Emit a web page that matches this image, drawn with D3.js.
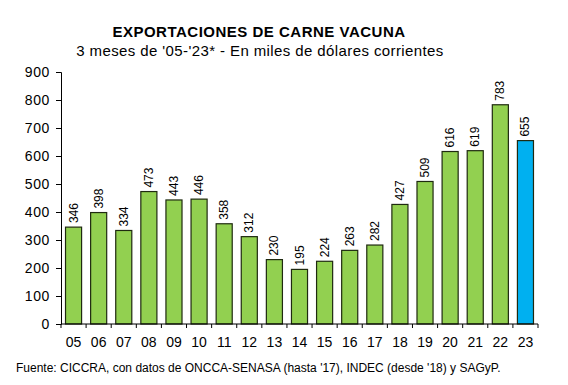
<!DOCTYPE html>
<html>
<head>
<meta charset="utf-8">
<script src="https://cdn.jsdelivr.net/npm/d3@7"></script>
<style>
  body { margin: 0; background: #fff; }
  text { font-family: "Liberation Sans", Arial, sans-serif; fill: #000; }
</style>
</head>
<body>
<div id="chart"></div>
<script>
const years = ['05', '06', '07', '08', '09', '10', '11', '12', '13', '14', '15', '16', '17', '18', '19', '20', '21', '22', '23'];
const values = [346, 398, 334, 473, 443, 446, 358, 312, 230, 195, 224, 263, 282, 427, 509, 616, 619, 783, 655];
const yTicks = [0, 100, 200, 300, 400, 500, 600, 700, 800, 900];

const width = 568;
const height = 385;

const svg = d3.select('#chart').append('svg')
  .attr('width', width)
  .attr('height', height);

const plotMargins = {top: 72, bottom: 61, left: 61, right: 30};
const plotWidth = width - plotMargins.left - plotMargins.right;
const plotHeight = height - plotMargins.top - plotMargins.bottom;

svg.append('text')
  .attr('x', 259).attr('y', 37)
  .attr('text-anchor', 'middle')
  .style('font-size', '15px').style('font-weight', 'bold')
  .style('letter-spacing', '0.5px')
  .text('EXPORTACIONES DE CARNE VACUNA');

svg.append('text')
  .attr('x', 260).attr('y', 56)
  .attr('text-anchor', 'middle')
  .style('font-size', '15px')
  .style('letter-spacing', '0.4px')
  .text("3 meses de '05-'23* - En miles de dólares corrientes");

const plotGroup = svg.append('g')
  .attr('transform', `translate(${plotMargins.left},${plotMargins.top})`);

const xScale = d3.scaleBand()
  .domain(years)
  .range([0, plotWidth])
  .paddingInner(0.36)
  .paddingOuter(0.18);

const yScale = d3.scaleLinear()
  .domain([0, 900])
  .range([plotHeight, 0]);

// y axis
const yAxis = d3.axisLeft(yScale).tickValues(yTicks).tickSize(5).tickPadding(6);
const yAxisGroup = plotGroup.append('g').call(yAxis);
yAxisGroup.selectAll('text').style('font-size', '14px').style('letter-spacing', '0.6px');

// bars
plotGroup.selectAll('.bar')
  .data(values)
  .enter()
  .append('rect')
  .classed('bar', true)
  .attr('x', (d, i) => xScale(years[i]))
  .attr('y', d => yScale(d))
  .attr('width', xScale.bandwidth())
  .attr('height', d => plotHeight - yScale(d))
  .style('fill', (d, i) => i === values.length - 1 ? '#00B0F0' : '#92D050')
  .style('stroke', '#1f2a10')
  .style('stroke-width', 1.2);

// value labels
plotGroup.selectAll('.val')
  .data(values)
  .enter()
  .append('text')
  .classed('val', true)
  .attr('transform', (d, i) => `translate(${xScale(years[i]) + xScale.bandwidth() / 2 + 4},${yScale(d) - 4}) rotate(-90)`)
  .style('font-size', '12px')
  .text(d => d);

// x axis
const step = xScale.step();
const xAxisGroup = plotGroup.append('g')
  .attr('transform', `translate(0,${plotHeight})`);
xAxisGroup.append('line')
  .attr('x1', 0).attr('x2', plotWidth)
  .style('stroke', '#000');
const boundaries = d3.range(years.length + 1).map(i => i * step);
xAxisGroup.selectAll('.tk')
  .data(boundaries)
  .enter()
  .append('line')
  .attr('x1', d => d).attr('x2', d => d)
  .attr('y1', 0).attr('y2', 4)
  .style('stroke', '#000');
xAxisGroup.selectAll('.lbl')
  .data(years)
  .enter()
  .append('text')
  .attr('x', d => xScale(d) + xScale.bandwidth() / 2)
  .attr('y', 23)
  .attr('text-anchor', 'middle')
  .style('font-size', '14px')
  .text(d => d);

svg.append('text')
  .attr('x', 16).attr('y', 372)
  .style('font-size', '12px')
  .text("Fuente: CICCRA, con datos de ONCCA-SENASA (hasta '17), INDEC (desde '18) y SAGyP.");
</script>
</body>
</html>
